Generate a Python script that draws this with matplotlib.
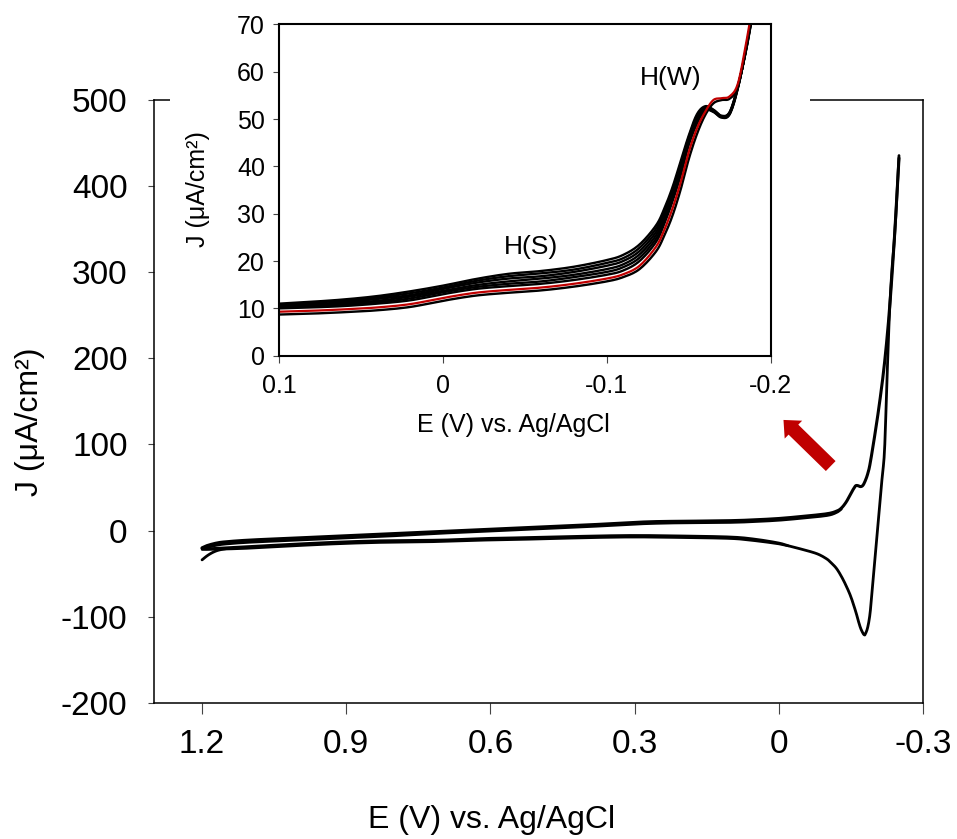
import numpy as np
import matplotlib
matplotlib.use("Agg")
import matplotlib.pyplot as plt
from matplotlib.patches import FancyArrowPatch, Rectangle

plt.rcParams['font.family'] = ['Liberation Sans', 'DejaVu Sans']
plt.rcParams['axes.unicode_minus'] = False

# ---- full cyclic voltammogram (E in V vs Ag/AgCl, J in uA/cm2) ----
E_fwd = [1.20, 1.19, 1.17, 1.15, 1.10, 1.00, 0.90, 0.80, 0.70, 0.60, 0.50, 0.40,
         0.30, 0.25, 0.20, 0.10, 0.05, 0.00, -0.05, -0.10, -0.12, -0.13, -0.14,
         -0.15, -0.155, -0.16, -0.165, -0.17, -0.175, -0.18, -0.185, -0.19,
         -0.20, -0.21, -0.22, -0.23, -0.24, -0.25]
J_fwd = [-20, -17.5, -14.5, -13, -11, -8.5, -6, -3.5, -1, 1.5, 4, 6.5,
         9.5, 10.5, 10.8, 11.5, 12.5, 14.0, 16.5, 19.5, 22.5, 26, 33,
         43, 48, 52, 52, 51, 52.5, 58, 66, 78,
         112, 150, 195, 255, 335, 432]

# later anodic sweep, slightly lower in the double-layer region
E_fwd_b = [1.20, 1.19, 1.17, 1.15, 1.10, 1.00, 0.90, 0.80, 0.70, 0.60, 0.50, 0.40,
           0.30, 0.25, 0.20, 0.10, 0.05, 0.00, -0.05, -0.10, -0.12, -0.13]
J_fwd_b = [-20.5, -19.5, -17, -15.5, -13.5, -11, -8.5, -6, -3, -0.5, 2, 4.5,
           7.5, 8.5, 9, 9.5, 10.5, 12, 14.5, 17.5, 21, 25]

E_rev = [-0.25, -0.245, -0.24, -0.235, -0.23, -0.225, -0.22, -0.215, -0.21,
         -0.205, -0.20, -0.195, -0.19, -0.185, -0.18, -0.178, -0.175, -0.17,
         -0.165, -0.16, -0.15, -0.14, -0.13, -0.12, -0.11, -0.10, -0.08, -0.05,
         -0.025, 0.0, 0.05, 0.10, 0.2, 0.3, 0.4, 0.5, 0.6, 0.7, 0.8, 0.9, 1.0,
         1.1, 1.15, 1.18, 1.2]
J_rev = [435, 380, 335, 300, 250, 175, 94, 62, 31,
         0, -32, -63, -95, -112, -120, -121, -119, -113,
         -104, -94, -77, -64, -53, -44, -38, -33, -27, -22,
         -18.5, -14.5, -10, -7.5, -6.3, -5.7, -6.5, -8, -9, -11, -11.5, -13, -15.5,
         -18.5, -20, -21, -21]

# later cathodic sweep, slightly lower in the double-layer region
E_rev_b = [-0.02, 0.0, 0.05, 0.10, 0.2, 0.3, 0.4, 0.5, 0.6, 0.7, 0.8,
           0.9, 1.0, 1.1, 1.15, 1.18, 1.2]
J_rev_b = [-17.8, -15.5, -11.8, -9.3, -8.2, -7.6, -8.4, -9.9, -11, -12.8, -13.5,
           -15, -17.5, -20.5, -21.5, -22, -22]

# first sweep starting point
E_start = [1.20, 1.19, 1.18, 1.17, 1.16, 1.15]
J_start = [-34, -29.5, -26, -23.5, -22, -21]

main_xticks = [1.2, 0.9, 0.6, 0.3, 0.0, -0.3]
main_xticklabels = ['1.2', '0.9', '0.6', '0.3', '0', '-0.3']
main_yticks = [-200, -100, 0, 100, 200, 300, 400, 500]

# ---- hydrogen region, successive cycles ----
E_h = [0.10, 0.08, 0.06, 0.04, 0.02, 0.00, -0.02, -0.04, -0.06, -0.08, -0.10,
       -0.11, -0.12, -0.13, -0.135, -0.14, -0.145, -0.15, -0.155, -0.16,
       -0.165, -0.17, -0.175, -0.18, -0.185, -0.19]

J_cycles = [
    [10.0, 10.2, 10.5, 11.0, 11.7, 13.0, 14.1, 14.7, 15.2, 16.0, 17.1, 18.0, 20.0,
     24.0, 27.8, 32.5, 38.0, 44.5, 49.0, 51.8, 51.5, 50.3, 51.0, 56.5, 65.0, 75.0],
    [10.2, 10.4, 10.8, 11.3, 12.1, 13.4, 14.5, 15.2, 15.7, 16.6, 17.7, 18.7, 20.7,
     24.7, 28.4, 33.1, 38.6, 44.9, 49.4, 52.0, 51.6, 50.4, 51.1, 56.6, 64.9, 74.8],
    [10.4, 10.7, 11.1, 11.6, 12.5, 13.7, 14.9, 15.7, 16.3, 17.1, 18.3, 19.3, 21.4,
     25.4, 29.1, 33.7, 39.2, 45.3, 49.8, 52.2, 51.7, 50.5, 51.2, 56.7, 64.8, 74.6],
    [10.6, 10.9, 11.3, 12.0, 12.8, 14.1, 15.4, 16.3, 16.8, 17.7, 19.0, 20.0, 22.1,
     26.1, 29.7, 34.3, 39.8, 45.7, 50.2, 52.3, 51.8, 50.5, 51.3, 56.8, 64.7, 74.4],
    [10.8, 11.2, 11.6, 12.3, 13.2, 14.4, 15.8, 16.8, 17.4, 18.2, 19.6, 20.6, 22.8,
     26.8, 30.4, 34.9, 40.4, 46.1, 50.6, 52.5, 51.9, 50.6, 51.4, 56.9, 64.6, 74.2],
    [11.0, 11.4, 11.9, 12.6, 13.6, 14.8, 16.2, 17.3, 17.9, 18.8, 20.2, 21.3, 23.5,
     27.5, 31.0, 35.5, 41.0, 46.5, 51.0, 52.7, 52.0, 50.7, 51.5, 57.0, 64.5, 74.0],
]
J_first = [8.7, 8.9, 9.2, 9.6, 10.3, 11.6, 12.7, 13.3, 13.8, 14.6, 15.7, 16.6, 18.3,
           22.0, 25.3, 29.5, 35.0, 41.5, 46.8, 50.8, 53.3, 54.0, 54.3, 56.8, 65.0, 75.0]
J_red = [9.3, 9.5, 9.8, 10.2, 10.9, 12.2, 13.3, 13.9, 14.4, 15.2, 16.3, 17.2, 19.0,
         23.0, 26.5, 31.0, 36.5, 43.0, 48.0, 51.5, 54.0, 54.4, 54.8, 57.5, 66.0, 76.0]

inset_xticks = [0.1, 0.0, -0.1, -0.2]
inset_xticklabels = ['0.1', '0', '-0.1', '-0.2']
inset_yticks = [0, 10, 20, 30, 40, 50, 60, 70]

RED = '#C00000'


def smooth_line(x, y, n=10):
    """Smoothed polyline through the given points (Catmull-Rom as cubic Bezier)."""
    P = np.column_stack([np.asarray(x, float), np.asarray(y, float)])
    P = np.vstack([2 * P[0] - P[1], P, 2 * P[-1] - P[-2]])
    t = np.linspace(0.0, 1.0, n, endpoint=False)[:, None]
    segs = []
    for i in range(1, len(P) - 2):
        p0, p1, p2, p3 = P[i - 1], P[i], P[i + 1], P[i + 2]
        b1 = p1 + (p2 - p0) / 6.0
        b2 = p2 - (p3 - p1) / 6.0
        seg = ((1 - t) ** 3) * p1 + 3 * ((1 - t) ** 2) * t * b1 \
            + 3 * (1 - t) * t ** 2 * b2 + t ** 3 * p2
        segs.append(seg)
    segs.append(P[-2][None, :])
    S = np.vstack(segs)
    return S[:, 0], S[:, 1]


fig = plt.figure(figsize=(9.57, 8.39), dpi=100)

# main axes
ax = fig.add_axes([0.1609, 0.1621, 0.8036, 0.7193])
ax.set_zorder(0)
for xs, ys, w in [(E_rev, J_rev, 2.0), (E_rev_b, J_rev_b, 1.8),
                  (E_start, J_start, 2.0), (E_fwd_b, J_fwd_b, 2.0),
                  (E_fwd, J_fwd, 2.2)]:
    sx, sy = smooth_line(xs, ys)
    ax.plot(sx, sy, color='black', lw=w, solid_capstyle='round')
ax.set_xlim(1.3, -0.3)
ax.set_ylim(-200, 500)
ax.set_xticks(main_xticks)
ax.set_xticklabels(main_xticklabels)
ax.set_yticks(main_yticks)
ax.tick_params(axis='both', labelsize=24, direction='out', color='#444444', width=0.8)
ax.tick_params(axis='x', length=8, pad=11)
ax.tick_params(axis='y', length=4, pad=15)
for s in ax.spines.values():
    s.set_linewidth(1.1)
ax.set_xlabel('E (V) vs. Ag/AgCl', fontsize=23, va='center')
ax.xaxis.set_label_coords(0.4395, -0.194)
ax.set_ylabel('J (μA/cm²)', fontsize=23, va='center')
ax.yaxis.set_label_coords(-0.161, 0.466)

# white backing panel behind the inset chart (hides part of the main frame)
backing = Rectangle((170 / 957, 1 - 445 / 839), (810 - 170) / 957, 445 / 839,
                    transform=fig.transFigure, facecolor='white',
                    edgecolor='none', zorder=1)
fig.patches.append(backing)

# inset axes
ins = fig.add_axes([0.2915, 0.576, 0.5138, 0.395])
ins.set_zorder(2)
ins.set_facecolor('white')
sx, sy = smooth_line(E_h, J_first)
ins.plot(sx, sy, color='black', lw=1.7)
for J in J_cycles:
    sx, sy = smooth_line(E_h, J)
    ins.plot(sx, sy, color='black', lw=1.7)
sx, sy = smooth_line(E_h, J_red)
ins.plot(sx, sy, color=RED, lw=1.6)
ins.set_xlim(0.1, -0.2)
ins.set_ylim(0, 70)
ins.set_xticks(inset_xticks)
ins.set_xticklabels(inset_xticklabels)
ins.set_yticks(inset_yticks)
ins.tick_params(axis='both', labelsize=18, direction='out', color='#444444', width=0.8)
ins.tick_params(axis='x', length=5, pad=8)
ins.tick_params(axis='y', length=4, pad=6)
for s in ins.spines.values():
    s.set_linewidth(1.5)
ins.set_xlabel('E (V) vs. Ag/AgCl', fontsize=18, va='center')
ins.xaxis.set_label_coords(0.476, -0.208)
ins.set_ylabel('J (μA/cm²)', fontsize=18, va='center')
ins.yaxis.set_label_coords(-0.165, 0.504)
ins.text(-0.0538, 23.0, 'H(S)', fontsize=19, ha='center', va='center')
ins.text(-0.139, 58.6, 'H(W)', fontsize=19, ha='center', va='center')

# pointer from the main curve to the inset
arrow = FancyArrowPatch((8.327, 3.71), (7.815, 4.21),
                        transform=fig.dpi_scale_trans,
                        arrowstyle='simple,head_width=18,head_length=10,tail_width=10',
                        mutation_scale=1, color=RED, lw=0, zorder=3)
fig.patches.append(arrow)

fig.savefig('out.png', dpi=100)
